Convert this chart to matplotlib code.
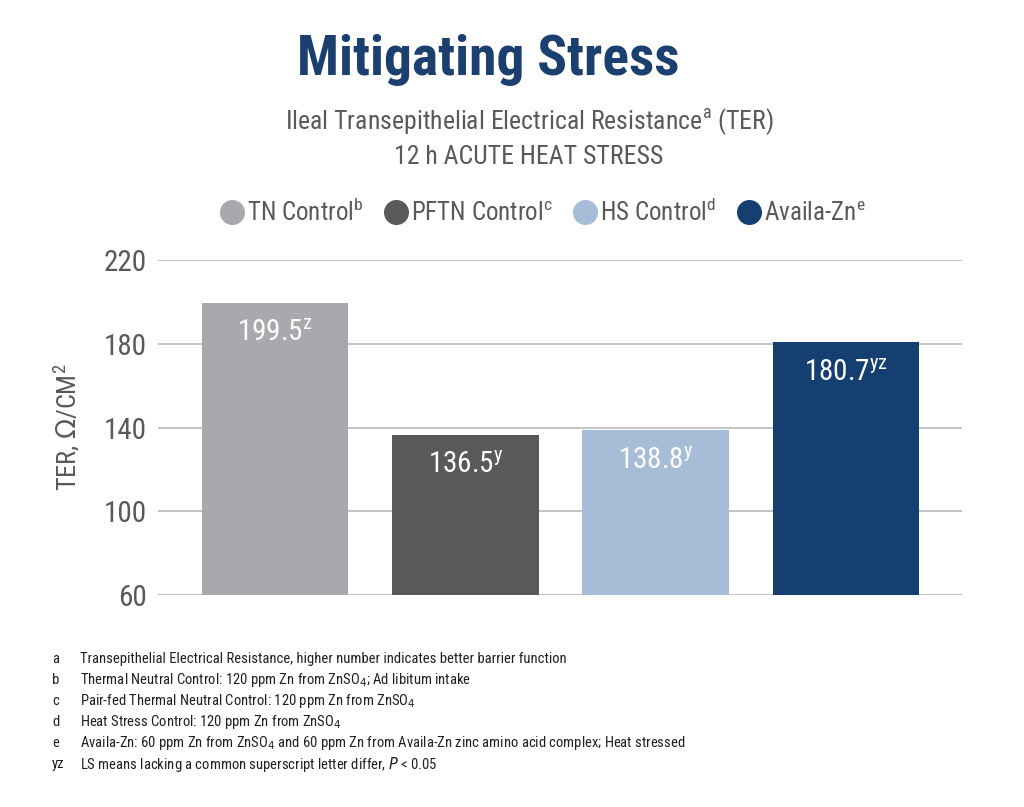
import matplotlib
matplotlib.use('Agg')
import matplotlib.pyplot as plt
from matplotlib.lines import Line2D

# data
groups = ['TN Control', 'PFTN Control', 'HS Control', 'Availa-Zn']
legend_sup = ['b', 'c', 'd', 'e']
ter = [199.5, 136.5, 138.8, 180.7]
sig = ['z', 'y', 'y', 'yz']
colors = ['#a7a9ac', '#58595b', '#a7bcd6', '#153f71']
yticks = [60, 100, 140, 180, 220]

notes_key = ['a', 'b', 'c', 'd', 'e', 'yz']
notes_text = [
    'Transepithelial Electrical Resistance, higher number indicates better barrier function',
    r'Thermal Neutral Control: 120 ppm Zn from ZnSO$_4$; Ad libitum intake',
    r'Pair-fed Thermal Neutral Control: 120 ppm Zn from ZnSO$_4$',
    r'Heat Stress Control: 120 ppm Zn from ZnSO$_4$',
    r'Availa-Zn: 60 ppm Zn from ZnSO$_4$ and 60 ppm Zn from Availa-Zn zinc amino acid complex; Heat stressed',
    r'LS means lacking a common superscript letter differ, $P$ < 0.05',
]

FONT = ['Liberation Sans Narrow', 'Roboto Condensed', 'Liberation Sans', 'DejaVu Sans']
plt.rcParams['font.family'] = FONT
plt.rcParams['mathtext.fontset'] = 'custom'
plt.rcParams['mathtext.rm'] = 'Liberation Sans Narrow'
plt.rcParams['mathtext.it'] = 'Liberation Sans Narrow:italic'
plt.rcParams['mathtext.bf'] = 'Liberation Sans Narrow:bold'

GREY = '#58595b'
NAVY = '#1b3f6e'

fig = plt.figure(figsize=(10.24, 8.07), dpi=100)
ax = fig.add_axes([0.1543, 0.2627, 0.7852, 0.4151])

x = range(len(groups))
ax.bar(x, ter, width=0.77, color=colors, zorder=3)
for i, v in enumerate(ter):
    ax.annotate(f'{v}' + r'$^{\mathregular{' + sig[i] + '}}$', (i, v),
                xytext=(0, -22), textcoords='offset points',
                ha='center', va='center', color='white', fontsize=21)

ax.set_xlim(-0.616, 3.61)
ax.set_ylim(60, 220)
ax.set_yticks(yticks)
ax.set_xticks([])
ax.grid(axis='y', color='#b3b3b3', linewidth=1.1, zorder=0)
for s in ax.spines.values():
    s.set_visible(False)
ax.tick_params(axis='y', length=0, pad=8, labelsize=21, labelcolor=GREY)
ax.set_ylabel(r'TER, $\Omega$/CM$^{\mathregular{2}}$', fontsize=19, color=GREY, labelpad=16)

# legend
handles = [Line2D([], [], marker='o', linestyle='none', markersize=17,
                  markerfacecolor=c, markeredgecolor=c) for c in colors]
labels = [g + r'$^{\mathregular{' + s + '}}$' for g, s in zip(groups, legend_sup)]
ax.legend(handles, labels, ncol=4, frameon=False, loc='center',
          bbox_to_anchor=(0.478, 1.143), fontsize=18, labelcolor=GREY,
          handletextpad=0.1, columnspacing=0.8, handlelength=1.0)

# titles
fig.text(0.477, 0.926, 'Mitigating Stress', ha='center', va='center',
         fontsize=40, fontweight='bold', color=NAVY)
fig.text(0.517, 0.850, r'Ileal Transepithelial Electrical Resistance$^{\mathregular{a}}$ (TER)',
         ha='center', va='center', fontsize=18.5, color=GREY)
fig.text(0.516, 0.806, '12 h ACUTE HEAT STRESS', ha='center', va='center',
         fontsize=18.5, color=GREY)

# footnotes
for i, (k, t) in enumerate(zip(notes_key, notes_text)):
    y = 1 - (659 + i * 21) / 807
    fig.text(52 / 1024, y, k, ha='left', va='center', fontsize=10.5, color='#231f20')
    fig.text(80 / 1024, y, t, ha='left', va='center', fontsize=10.5, color='#231f20')

fig.savefig('out.png', dpi=100, facecolor='white')
